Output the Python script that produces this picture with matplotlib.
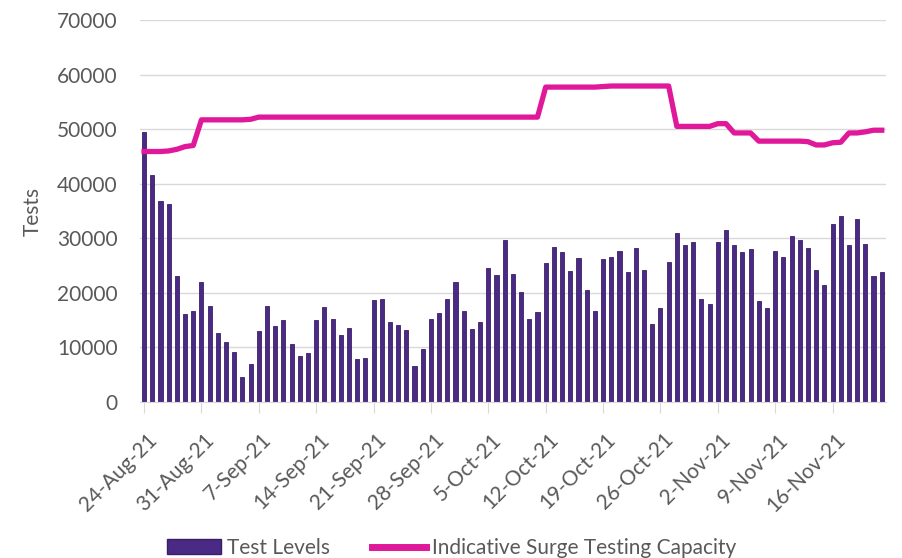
import numpy as np
import pandas as pd
import matplotlib
matplotlib.use("Agg")
import matplotlib.pyplot as plt
import matplotlib.transforms as mtransforms
from matplotlib.patches import Patch
from matplotlib.lines import Line2D

plt.rcParams['font.family'] = ['Lato', 'DejaVu Sans']

# daily dates, 24-Aug-21 .. 22-Nov-21
dates = pd.date_range("2021-08-24", "2021-11-22", freq="D")

test_levels = [
    49500, 41600, 36900, 36300, 23000, 16200, 16600, 22000, 17600, 12600,
    10900, 9100, 4500, 7000, 13000, 17600, 13900, 15000, 10700, 8500,
    9000, 15000, 17400, 15200, 12200, 13600, 7800, 8000, 18600, 18800,
    14700, 14100, 13200, 6600, 9800, 15200, 16300, 18800, 21900, 16600,
    13400, 14700, 24500, 23300, 29700, 23500, 20200, 15200, 16400, 25500,
    28400, 27400, 24000, 26400, 20600, 16700, 26200, 26500, 27600, 23900,
    28200, 24100, 14200, 17300, 25700, 30900, 28700, 29300, 18800, 17900,
    29300, 31600, 28700, 27400, 28100, 18500, 17200, 27700, 26500, 30500,
    29600, 28200, 24200, 21500, 32700, 34000, 28700, 33500, 29000, 23000,
    23900,
]

surge_capacity = [
    45900, 45900, 45900, 46000, 46300, 46800, 47000, 51700, 51700, 51700,
    51700, 51700, 51700, 51800, 52200, 52200, 52200, 52200, 52200, 52200,
    52200, 52200, 52200, 52200, 52200, 52200, 52200, 52200, 52200, 52200,
    52200, 52200, 52200, 52200, 52200, 52200, 52200, 52200, 52200, 52200,
    52200, 52200, 52200, 52200, 52200, 52200, 52200, 52200, 52200, 57700,
    57700, 57700, 57700, 57700, 57700, 57700, 57800, 57900, 57900, 57900,
    57900, 57900, 57900, 57900, 57900, 50500, 50500, 50500, 50500, 50500,
    51000, 51000, 49300, 49300, 49300, 47800, 47800, 47800, 47800, 47800,
    47800, 47700, 47100, 47100, 47500, 47600, 49300, 49300, 49500, 49800,
    49800,
]

x = np.arange(len(dates))
tick_idx = x[::7]
tick_labels = [f"{d.day}-{d.strftime('%b-%y')}" for d in dates[::7]]

fig = plt.figure(figsize=(9.03, 5.58), dpi=100)
ax = fig.add_axes([0.155, 0.2796, 0.826, 0.6846])

bar_col = "#4b2a85"
line_col = "#e0189a"
grey = "#595959"

ax.bar(x, test_levels, width=0.5, color=bar_col, edgecolor="#3a1f66", linewidth=0.6, zorder=2)
ax.plot(x, surge_capacity, color=line_col, linewidth=3.8, solid_joinstyle="round", zorder=3)

ax.set_xlim(-0.5, len(dates) - 0.5)
ax.set_ylim(0, 70000)
ax.set_yticks(np.arange(0, 70001, 10000))
ax.tick_params(axis="y", length=0, pad=16, labelsize=15, labelcolor=grey)
ax.grid(axis="y", color="#d9d9d9", linewidth=1, zorder=0)
ax.set_axisbelow(True)

ax.set_xticks(tick_idx)
ax.set_xticklabels(tick_labels, rotation=45, ha="right", va="center",
                   rotation_mode="anchor", fontsize=15, color=grey)
ax.tick_params(axis="x", length=8, color="#d9d9d9", pad=17)
# nudge the rotated labels a little to the right, as in the original
shift = mtransforms.ScaledTranslation(7 / 72, 0, fig.dpi_scale_trans)
for lbl in ax.get_xticklabels():
    lbl.set_transform(lbl.get_transform() + shift)

for s in ["top", "right", "left"]:
    ax.spines[s].set_visible(False)
ax.spines["bottom"].set_color("#d9d9d9")

ax.set_ylabel("Tests", fontsize=15, color=grey, labelpad=10)

handles = [Patch(facecolor=bar_col, edgecolor="#3a1f66"),
           Line2D([0], [0], color=line_col, linewidth=5)]
fig.legend(handles, ["Test Levels", "Indicative Surge Testing Capacity"],
           loc="center", bbox_to_anchor=(0.5, 0.018), ncol=2, frameon=False,
           fontsize=15, handlelength=2.6, handleheight=0.75, columnspacing=2.0,
           handletextpad=0.3, labelcolor=grey, borderpad=0)

fig.savefig("out.png", dpi=100)
